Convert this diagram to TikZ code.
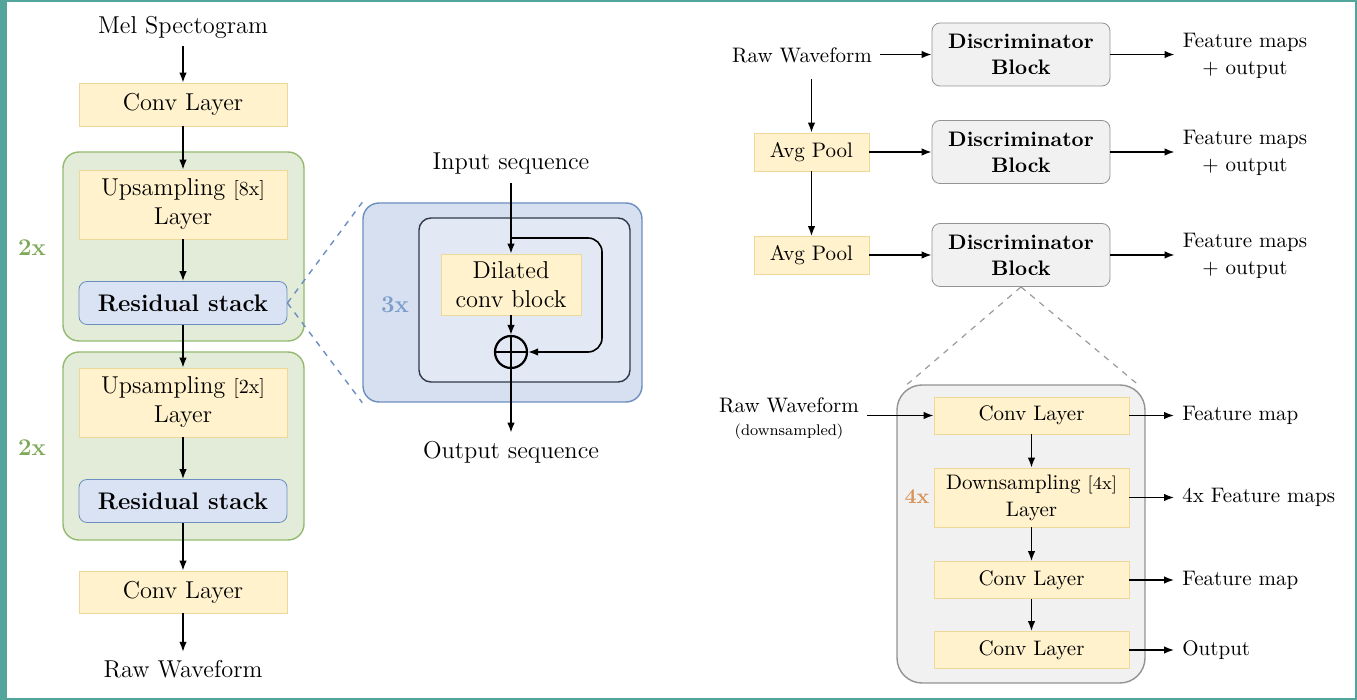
\documentclass[tikz,border=0pt]{standalone}
\usepackage{tikz}
\usetikzlibrary{arrows.meta}

\definecolor{frameteal}{HTML}{52A59B}
\definecolor{layerfill}{HTML}{FFF2CC}
\definecolor{layerline}{HTML}{EFD79A}
\definecolor{groupfill}{HTML}{E3ECD9}
\definecolor{groupline}{HTML}{93BA6F}
\definecolor{resfill}{HTML}{DAE3F3}
\definecolor{resline}{HTML}{6C8EBF}
\definecolor{outerfill}{HTML}{D6E0F0}
\definecolor{innerfill}{HTML}{E2E9F4}
\definecolor{innerline}{HTML}{2F3A4A}
\definecolor{discfill}{HTML}{F1F1F1}
\definecolor{discline}{HTML}{939393}
\definecolor{greenlabel}{HTML}{7FAA5A}
\definecolor{bluelabel}{HTML}{7D9DCB}
\definecolor{orangelabel}{HTML}{D9935A}
\definecolor{dashgrey}{HTML}{9A9A9A}

\begin{document}
\begin{tikzpicture}[x=0.5pt,y=-0.5pt,
  font=\fontsize{12.2}{14.5}\selectfont,
  layer/.style={draw=layerline, fill=layerfill, inner sep=0pt, align=center,
    minimum width=104pt, minimum height=21.5pt},
  resstack/.style={layer, draw=resline, fill=resfill, rounded corners=4pt,
    font=\fontsize{12}{14.5}\selectfont\bfseries},
  discblock/.style={draw=discline, fill=discfill, rounded corners=4pt, inner sep=0pt,
    align=center, minimum width=89pt, minimum height=31.5pt,
    font=\fontsize{10.5}{13}\selectfont\bfseries},
  textlabel/.style={inner sep=4pt, align=center},
  repcount/.style={font=\fontsize{12}{14}\selectfont\bfseries},
  repgroup/.style={draw=groupline, fill=groupfill, rounded corners=8pt, line width=0.7pt},
  flow/.style={-{Latex[length=5pt,width=3.8pt]}, line width=0.8pt}]

  \useasboundingbox (0,0) rectangle (1357,700);
  % frame
  \fill[frameteal] (0,0) rectangle (7,700);
  \fill[frameteal] (0,0) rectangle (1357,2);
  \fill[frameteal] (1355,0) rectangle (1357,700);
  \fill[frameteal] (0,698) rectangle (1357,700);

  % generator
  \draw[repgroup] (63,152) rectangle (304,341);
  \draw[repgroup] (63,352) rectangle (304,540);
  \node[textlabel] (mel) at (183,27) {Mel Spectogram};
  \node[layer] (conv1) at (183,104.5) {Conv Layer};
  \node[layer, minimum height=34.5pt] (up1) at (183,204.5)
    {Upsampling {\fontsize{10}{12}\selectfont[8x]}\\Layer};
  \node[resstack] (res1) at (183,303) {Residual stack};
  \node[layer, minimum height=34.5pt] (up2) at (183,402.5)
    {Upsampling {\fontsize{10}{12}\selectfont[2x]}\\Layer};
  \node[resstack] (res2) at (183,501) {Residual stack};
  \node[layer, minimum height=21pt] (conv2) at (183,592) {Conv Layer};
  \node[textlabel] (wave) at (183,669) {Raw Waveform};
  \node[repcount, text=greenlabel] (rep1) at (32,248) {2x};
  \node[repcount, text=greenlabel] (rep2) at (32,448) {2x};

  \draw[flow] (mel) -- (conv1);
  \draw[flow] (conv1) -- (up1);
  \draw[flow] (up1) -- (res1);
  \draw[flow] (res1) -- (up2);
  \draw[flow] (up2) -- (res2);
  \draw[flow] (res2) -- (conv2);
  \draw[flow] (conv2) -- (wave);

  % residual stack detail
  \node[draw=resline, fill=outerfill, rounded corners=8pt, line width=0.7pt,
    minimum width=139.5pt, minimum height=99.5pt] (outer) at (502.5,302.5) {};
  \node[draw=innerline, fill=innerfill, rounded corners=6pt, line width=0.7pt,
    minimum width=105.5pt, minimum height=82pt] (inner) at (524.5,300) {};
  \draw[resline, dashed, line width=0.7pt] (res1.east) -- (outer.north west);
  \draw[resline, dashed, line width=0.7pt] (res1.east) -- (outer.south west);
  \node[repcount, text=bluelabel] (rep3) at (395,305) {3x};
  \node[textlabel] (inseq) at (511,164) {Input sequence};
  \node[layer, minimum width=70pt, minimum height=30.5pt] (dilated) at (511,284.5)
    {Dilated\\conv block};
  \node[draw, circle, line width=1.1pt, minimum size=16pt, inner sep=0pt] (plus) at (511,352) {};
  \draw[line width=1.1pt] (plus.north) -- (plus.south) (plus.west) -- (plus.east);
  \node[textlabel] (outseq) at (511,452) {Output sequence};
  \coordinate (split) at (511,238);

  \draw[flow] (inseq) -- (dilated);
  \draw[flow] (dilated) -- (plus);
  \draw[flow, rounded corners=7pt] (split) -- (602,238) -- (602,352) -- (plus.east);
  \draw[flow] (plus) -- (outseq);

  % discriminator
  \begin{scope}[font=\fontsize{10.5}{13.5}\selectfont]
    \node[textlabel] (rw) at (802,55) {Raw Waveform};
    \node[layer, minimum width=57.5pt, minimum height=19pt] (pool1) at (811.5,152) {Avg Pool};
    \node[layer, minimum width=57.5pt, minimum height=19pt] (pool2) at (811.5,255.5) {Avg Pool};
    \node[discblock] (disc1) at (1021,54.5) {Discriminator\\Block};
    \node[discblock] (disc2) at (1021,152) {Discriminator\\Block};
    \node[discblock] (disc3) at (1021,255) {Discriminator\\Block};
    \node[textlabel] (fm1) at (1245,56) {Feature maps\\+ output};
    \node[textlabel] (fm2) at (1245,153) {Feature maps\\+ output};
    \node[textlabel] (fm3) at (1245,256) {Feature maps\\+ output};

    \draw[flow] (rw.east |- disc1.west) -- (disc1.west);
    \draw[flow] ([yshift=-4pt]rw.south -| pool1.north) -- (pool1.north);
    \draw[flow] (pool1) -- (pool2);
    \draw[flow] (pool1) -- (disc2);
    \draw[flow] (pool2.east |- disc3.west) -- (disc3.west);
    \draw[flow] (disc1.east) -- (disc1.east -| fm1.west);
    \draw[flow] (disc2.east) -- (disc2.east -| fm2.west);
    \draw[flow] (disc3.east) -- (disc3.east -| fm3.west);

    % discriminator block detail
    \node[draw=discline, fill=discfill, rounded corners=12.5pt, line width=0.7pt,
      minimum width=124pt, minimum height=149pt] (dbox) at (1021,534) {};
    \draw[dashgrey, dashed, line width=0.6pt] (disc3.south) -- ([xshift=5.5pt]dbox.north west);
    \draw[dashgrey, dashed, line width=0.6pt] (disc3.south) -- ([xshift=-4pt]dbox.north east);
    \node[layer, minimum width=97.5pt, minimum height=18.5pt] (dconv1) at (1031.5,415.5) {Conv Layer};
    \node[layer, minimum width=97.5pt, minimum height=29.5pt] (down) at (1031.5,497.5)
      {Downsampling {\fontsize{9}{11}\selectfont[4x]}\\Layer};
    \node[layer, minimum width=97.5pt, minimum height=18.5pt] (dconv2) at (1031.5,580) {Conv Layer};
    \node[layer, minimum width=97.5pt, minimum height=18.5pt] (dconv3) at (1031.5,650) {Conv Layer};
    \node[repcount, font=\fontsize{10.5}{13}\selectfont\bfseries, text=orangelabel] (rep4) at (917,497) {4x};
    \node[textlabel] (rwd) at (789,419)
      {Raw Waveform\\[-2pt]{\fontsize{7.7}{9}\selectfont(downsampled)}};
    \node[textlabel, anchor=west] (map1) at (1174,415.5) {Feature map};
    \node[textlabel, anchor=west] (maps) at (1174,497.5) {4x Feature maps};
    \node[textlabel, anchor=west] (map2) at (1174,580) {Feature map};
    \node[textlabel, anchor=west] (dout) at (1174,650) {Output};

    \draw[flow] (dconv1.west -| rwd.east) -- (dconv1.west);
    \draw[flow] (dconv1) -- (down);
    \draw[flow] (down) -- (dconv2);
    \draw[flow] (dconv2) -- (dconv3);
    \draw[flow] (dconv1.east) -- (dconv1.east -| map1.west);
    \draw[flow] (down.east) -- (down.east -| maps.west);
    \draw[flow] (dconv2.east) -- (dconv2.east -| map2.west);
    \draw[flow] (dconv3.east) -- (dconv3.east -| dout.west);
  \end{scope}
\end{tikzpicture}
\end{document}
